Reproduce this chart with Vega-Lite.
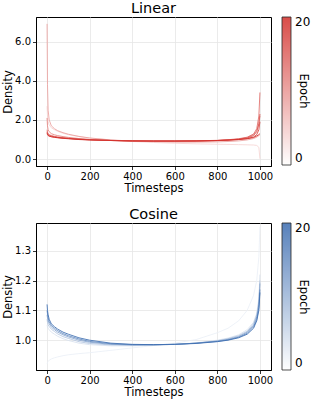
{
  "$schema": "https://vega.github.io/schema/vega-lite/v6.json",
  "background": "white",
  "padding": {"left": 2, "top": 0, "right": 0, "bottom": 0},
  "spacing": 11,
  "resolve": {"scale": {"color": "independent"}, "legend": {"color": "independent"}},
  "config": {
    "font": "DejaVu Sans",
    "view": {"stroke": "black", "strokeWidth": 1},
    "title": {"font": "DejaVu Sans", "fontSize": 14.5, "fontWeight": "normal", "color": "black", "offset": 1, "baseline": "alphabetic"},
    "axis": {
      "domainColor": "black", "tickColor": "black", "tickSize": 3.5, "tickWidth": 0.8,
      "labelFont": "DejaVu Sans", "labelFontSize": 10, "labelColor": "black", "labelPadding": 2,
      "titleFont": "DejaVu Sans", "titleFontSize": 11.5, "titleFontWeight": "normal", "titleColor": "black", "titlePadding": 1,
      "gridColor": "#e6e6e6", "gridWidth": 0.8
    },
    "legend": {
      "offset": 11, "padding": 0,
      "labelFont": "DejaVu Sans", "labelFontSize": 12, "labelColor": "black",
      "titleFont": "DejaVu Sans", "titleFontSize": 11.5, "titleFontWeight": "normal", "titleColor": "black",
      "gradientStrokeColor": "black", "gradientStrokeWidth": 0.8
    }
  },
  "vconcat": [
    {
      "title": "Linear",
      "width": 235,
      "height": 149,
      "data": {"values": [
        {"epoch":4,"step":0,"density":2.7},{"epoch":4,"step":2,"density":2.2},{"epoch":4,"step":5,"density":1.9},{"epoch":4,"step":10,"density":1.75},{"epoch":4,"step":20,"density":1.6},{"epoch":4,"step":35,"density":1.5},{"epoch":4,"step":50,"density":1.42},{"epoch":4,"step":75,"density":1.32},{"epoch":4,"step":100,"density":1.25},{"epoch":4,"step":150,"density":1.15},{"epoch":4,"step":200,"density":1.07},{"epoch":4,"step":300,"density":0.97},{"epoch":4,"step":400,"density":0.9},{"epoch":4,"step":500,"density":0.85},{"epoch":4,"step":600,"density":0.81},{"epoch":4,"step":700,"density":0.78},{"epoch":4,"step":800,"density":0.76},{"epoch":4,"step":850,"density":0.75},{"epoch":4,"step":900,"density":0.74},{"epoch":4,"step":940,"density":0.73},{"epoch":4,"step":970,"density":0.72},{"epoch":4,"step":985,"density":0.7},{"epoch":4,"step":995,"density":0.6},{"epoch":4,"step":1000,"density":0.02},
        {"epoch":9,"step":0,"density":6.9},{"epoch":9,"step":2,"density":3.8},{"epoch":9,"step":5,"density":2.5},{"epoch":9,"step":10,"density":2.0},{"epoch":9,"step":20,"density":1.7},{"epoch":9,"step":35,"density":1.55},{"epoch":9,"step":50,"density":1.45},{"epoch":9,"step":75,"density":1.35},{"epoch":9,"step":100,"density":1.27},{"epoch":9,"step":150,"density":1.16},{"epoch":9,"step":200,"density":1.08},{"epoch":9,"step":300,"density":0.98},{"epoch":9,"step":400,"density":0.92},{"epoch":9,"step":500,"density":0.89},{"epoch":9,"step":600,"density":0.87},{"epoch":9,"step":700,"density":0.87},{"epoch":9,"step":800,"density":0.88},{"epoch":9,"step":850,"density":0.9},{"epoch":9,"step":900,"density":0.93},{"epoch":9,"step":940,"density":0.98},{"epoch":9,"step":970,"density":1.05},{"epoch":9,"step":985,"density":1.12},{"epoch":9,"step":995,"density":1.2},{"epoch":9,"step":1000,"density":1.25},
        {"epoch":12,"step":0,"density":2.1},{"epoch":12,"step":2,"density":1.7},{"epoch":12,"step":5,"density":1.5},{"epoch":12,"step":10,"density":1.4},{"epoch":12,"step":20,"density":1.3},{"epoch":12,"step":35,"density":1.24},{"epoch":12,"step":50,"density":1.2},{"epoch":12,"step":75,"density":1.15},{"epoch":12,"step":100,"density":1.11},{"epoch":12,"step":150,"density":1.05},{"epoch":12,"step":200,"density":1.0},{"epoch":12,"step":300,"density":0.95},{"epoch":12,"step":400,"density":0.92},{"epoch":12,"step":500,"density":0.9},{"epoch":12,"step":600,"density":0.9},{"epoch":12,"step":700,"density":0.91},{"epoch":12,"step":800,"density":0.94},{"epoch":12,"step":850,"density":0.97},{"epoch":12,"step":900,"density":1.02},{"epoch":12,"step":940,"density":1.1},{"epoch":12,"step":970,"density":1.25},{"epoch":12,"step":985,"density":1.45},{"epoch":12,"step":995,"density":1.8},{"epoch":12,"step":1000,"density":2.2},
        {"epoch":14,"step":0,"density":1.5},{"epoch":14,"step":2,"density":1.38},{"epoch":14,"step":5,"density":1.3},{"epoch":14,"step":10,"density":1.25},{"epoch":14,"step":20,"density":1.2},{"epoch":14,"step":35,"density":1.16},{"epoch":14,"step":50,"density":1.13},{"epoch":14,"step":75,"density":1.1},{"epoch":14,"step":100,"density":1.07},{"epoch":14,"step":150,"density":1.03},{"epoch":14,"step":200,"density":1.0},{"epoch":14,"step":300,"density":0.96},{"epoch":14,"step":400,"density":0.93},{"epoch":14,"step":500,"density":0.92},{"epoch":14,"step":600,"density":0.92},{"epoch":14,"step":700,"density":0.93},{"epoch":14,"step":800,"density":0.96},{"epoch":14,"step":850,"density":0.99},{"epoch":14,"step":900,"density":1.04},{"epoch":14,"step":940,"density":1.12},{"epoch":14,"step":970,"density":1.28},{"epoch":14,"step":985,"density":1.55},{"epoch":14,"step":995,"density":2.2},{"epoch":14,"step":1000,"density":3.4},
        {"epoch":16,"step":0,"density":1.4},{"epoch":16,"step":2,"density":1.32},{"epoch":16,"step":5,"density":1.26},{"epoch":16,"step":10,"density":1.22},{"epoch":16,"step":20,"density":1.18},{"epoch":16,"step":35,"density":1.14},{"epoch":16,"step":50,"density":1.11},{"epoch":16,"step":75,"density":1.08},{"epoch":16,"step":100,"density":1.06},{"epoch":16,"step":150,"density":1.02},{"epoch":16,"step":200,"density":0.99},{"epoch":16,"step":300,"density":0.95},{"epoch":16,"step":400,"density":0.93},{"epoch":16,"step":500,"density":0.92},{"epoch":16,"step":600,"density":0.92},{"epoch":16,"step":700,"density":0.93},{"epoch":16,"step":800,"density":0.95},{"epoch":16,"step":850,"density":0.98},{"epoch":16,"step":900,"density":1.02},{"epoch":16,"step":940,"density":1.08},{"epoch":16,"step":970,"density":1.2},{"epoch":16,"step":985,"density":1.4},{"epoch":16,"step":995,"density":1.8},{"epoch":16,"step":1000,"density":2.3},
        {"epoch":18,"step":0,"density":1.35},{"epoch":18,"step":2,"density":1.28},{"epoch":18,"step":5,"density":1.22},{"epoch":18,"step":10,"density":1.18},{"epoch":18,"step":20,"density":1.15},{"epoch":18,"step":35,"density":1.12},{"epoch":18,"step":50,"density":1.1},{"epoch":18,"step":75,"density":1.07},{"epoch":18,"step":100,"density":1.05},{"epoch":18,"step":150,"density":1.01},{"epoch":18,"step":200,"density":0.98},{"epoch":18,"step":300,"density":0.95},{"epoch":18,"step":400,"density":0.93},{"epoch":18,"step":500,"density":0.92},{"epoch":18,"step":600,"density":0.92},{"epoch":18,"step":700,"density":0.93},{"epoch":18,"step":800,"density":0.95},{"epoch":18,"step":850,"density":0.97},{"epoch":18,"step":900,"density":1.0},{"epoch":18,"step":940,"density":1.05},{"epoch":18,"step":970,"density":1.13},{"epoch":18,"step":985,"density":1.25},{"epoch":18,"step":995,"density":1.5},{"epoch":18,"step":1000,"density":1.9},
        {"epoch":20,"step":0,"density":1.3},{"epoch":20,"step":2,"density":1.25},{"epoch":20,"step":5,"density":1.2},{"epoch":20,"step":10,"density":1.17},{"epoch":20,"step":20,"density":1.14},{"epoch":20,"step":35,"density":1.11},{"epoch":20,"step":50,"density":1.09},{"epoch":20,"step":75,"density":1.06},{"epoch":20,"step":100,"density":1.04},{"epoch":20,"step":150,"density":1.0},{"epoch":20,"step":200,"density":0.98},{"epoch":20,"step":300,"density":0.95},{"epoch":20,"step":400,"density":0.93},{"epoch":20,"step":500,"density":0.93},{"epoch":20,"step":600,"density":0.93},{"epoch":20,"step":700,"density":0.93},{"epoch":20,"step":800,"density":0.95},{"epoch":20,"step":850,"density":0.97},{"epoch":20,"step":900,"density":1.0},{"epoch":20,"step":940,"density":1.04},{"epoch":20,"step":970,"density":1.1},{"epoch":20,"step":985,"density":1.18},{"epoch":20,"step":995,"density":1.25},{"epoch":20,"step":1000,"density":1.3}
      ]},
      "mark": {"type": "line", "strokeWidth": 1, "opacity": 0.85},
      "encoding": {
        "x": {"field": "step", "type": "quantitative", "scale": {"domain": [-52, 1052], "nice": false, "zero": false}, "axis": {"values": [0, 200, 400, 600, 800, 1000], "format": "d", "title": "Timesteps"}},
        "y": {"field": "density", "type": "quantitative", "scale": {"domain": [-0.35, 7.25], "nice": false, "zero": false}, "axis": {"values": [0, 2, 4, 6], "format": ".1f", "title": "Density"}},
        "color": {"field": "epoch", "type": "quantitative", "scale": {"domain": [0, 20], "range": ["#ffffff", "#d32f2a"], "interpolate": "rgb"},
          "legend": {"title": "Epoch", "values": [0, 20], "gradientLength": 148, "gradientThickness": 9, "labelBaseline": "middle", "labelOffset": 4, "titleOrient": "right", "titleAnchor": "middle", "titleAngle": 270, "titlePadding": -12}},
        "detail": {"field": "epoch", "type": "nominal"},
        "order": {"field": "step", "type": "quantitative"}
      }
    },
    {
      "title": "Cosine",
      "width": 235,
      "height": 147,
      "data": {"values": [
        {"epoch":2,"step":0,"density":0.92},{"epoch":2,"step":2,"density":0.925},{"epoch":2,"step":5,"density":0.929},{"epoch":2,"step":10,"density":0.933},{"epoch":2,"step":20,"density":0.937},{"epoch":2,"step":35,"density":0.941},{"epoch":2,"step":50,"density":0.944},{"epoch":2,"step":75,"density":0.948},{"epoch":2,"step":100,"density":0.951},{"epoch":2,"step":150,"density":0.955},{"epoch":2,"step":200,"density":0.958},{"epoch":2,"step":300,"density":0.966},{"epoch":2,"step":400,"density":0.974},{"epoch":2,"step":500,"density":0.982},{"epoch":2,"step":600,"density":0.99},{"epoch":2,"step":700,"density":1.002},{"epoch":2,"step":800,"density":1.025},{"epoch":2,"step":850,"density":1.04},{"epoch":2,"step":900,"density":1.065},{"epoch":2,"step":940,"density":1.1},{"epoch":2,"step":970,"density":1.15},{"epoch":2,"step":985,"density":1.2},{"epoch":2,"step":995,"density":1.28},{"epoch":2,"step":1000,"density":1.38},
        {"epoch":4,"step":0,"density":1.05},{"epoch":4,"step":2,"density":1.045},{"epoch":4,"step":5,"density":1.04},{"epoch":4,"step":10,"density":1.035},{"epoch":4,"step":20,"density":1.027},{"epoch":4,"step":35,"density":1.02},{"epoch":4,"step":50,"density":1.013},{"epoch":4,"step":75,"density":1.005},{"epoch":4,"step":100,"density":0.999},{"epoch":4,"step":150,"density":0.99},{"epoch":4,"step":200,"density":0.985},{"epoch":4,"step":300,"density":0.981},{"epoch":4,"step":400,"density":0.981},{"epoch":4,"step":500,"density":0.983},{"epoch":4,"step":600,"density":0.986},{"epoch":4,"step":700,"density":0.991},{"epoch":4,"step":800,"density":1.0},{"epoch":4,"step":850,"density":1.007},{"epoch":4,"step":900,"density":1.018},{"epoch":4,"step":940,"density":1.035},{"epoch":4,"step":970,"density":1.06},{"epoch":4,"step":985,"density":1.09},{"epoch":4,"step":995,"density":1.14},{"epoch":4,"step":1000,"density":1.22},
        {"epoch":8,"step":0,"density":1.07},{"epoch":8,"step":2,"density":1.06},{"epoch":8,"step":5,"density":1.052},{"epoch":8,"step":10,"density":1.046},{"epoch":8,"step":20,"density":1.037},{"epoch":8,"step":35,"density":1.029},{"epoch":8,"step":50,"density":1.021},{"epoch":8,"step":75,"density":1.012},{"epoch":8,"step":100,"density":1.006},{"epoch":8,"step":150,"density":0.995},{"epoch":8,"step":200,"density":0.989},{"epoch":8,"step":300,"density":0.984},{"epoch":8,"step":400,"density":0.983},{"epoch":8,"step":500,"density":0.984},{"epoch":8,"step":600,"density":0.986},{"epoch":8,"step":700,"density":0.99},{"epoch":8,"step":800,"density":0.998},{"epoch":8,"step":850,"density":1.005},{"epoch":8,"step":900,"density":1.015},{"epoch":8,"step":940,"density":1.03},{"epoch":8,"step":970,"density":1.055},{"epoch":8,"step":985,"density":1.085},{"epoch":8,"step":995,"density":1.13},{"epoch":8,"step":1000,"density":1.2},
        {"epoch":12,"step":0,"density":1.085},{"epoch":12,"step":2,"density":1.075},{"epoch":12,"step":5,"density":1.065},{"epoch":12,"step":10,"density":1.055},{"epoch":12,"step":20,"density":1.044},{"epoch":12,"step":35,"density":1.035},{"epoch":12,"step":50,"density":1.027},{"epoch":12,"step":75,"density":1.018},{"epoch":12,"step":100,"density":1.011},{"epoch":12,"step":150,"density":1.0},{"epoch":12,"step":200,"density":0.993},{"epoch":12,"step":300,"density":0.986},{"epoch":12,"step":400,"density":0.984},{"epoch":12,"step":500,"density":0.984},{"epoch":12,"step":600,"density":0.986},{"epoch":12,"step":700,"density":0.99},{"epoch":12,"step":800,"density":0.997},{"epoch":12,"step":850,"density":1.003},{"epoch":12,"step":900,"density":1.012},{"epoch":12,"step":940,"density":1.027},{"epoch":12,"step":970,"density":1.05},{"epoch":12,"step":985,"density":1.078},{"epoch":12,"step":995,"density":1.12},{"epoch":12,"step":1000,"density":1.19},
        {"epoch":16,"step":0,"density":1.1},{"epoch":16,"step":2,"density":1.088},{"epoch":16,"step":5,"density":1.075},{"epoch":16,"step":10,"density":1.062},{"epoch":16,"step":20,"density":1.05},{"epoch":16,"step":35,"density":1.04},{"epoch":16,"step":50,"density":1.032},{"epoch":16,"step":75,"density":1.022},{"epoch":16,"step":100,"density":1.015},{"epoch":16,"step":150,"density":1.004},{"epoch":16,"step":200,"density":0.996},{"epoch":16,"step":300,"density":0.988},{"epoch":16,"step":400,"density":0.985},{"epoch":16,"step":500,"density":0.985},{"epoch":16,"step":600,"density":0.986},{"epoch":16,"step":700,"density":0.99},{"epoch":16,"step":800,"density":0.996},{"epoch":16,"step":850,"density":1.001},{"epoch":16,"step":900,"density":1.01},{"epoch":16,"step":940,"density":1.023},{"epoch":16,"step":970,"density":1.045},{"epoch":16,"step":985,"density":1.07},{"epoch":16,"step":995,"density":1.11},{"epoch":16,"step":1000,"density":1.17},
        {"epoch":20,"step":0,"density":1.12},{"epoch":20,"step":2,"density":1.1},{"epoch":20,"step":5,"density":1.085},{"epoch":20,"step":10,"density":1.07},{"epoch":20,"step":20,"density":1.055},{"epoch":20,"step":35,"density":1.045},{"epoch":20,"step":50,"density":1.037},{"epoch":20,"step":75,"density":1.027},{"epoch":20,"step":100,"density":1.02},{"epoch":20,"step":150,"density":1.008},{"epoch":20,"step":200,"density":1.0},{"epoch":20,"step":300,"density":0.99},{"epoch":20,"step":400,"density":0.986},{"epoch":20,"step":500,"density":0.985},{"epoch":20,"step":600,"density":0.986},{"epoch":20,"step":700,"density":0.989},{"epoch":20,"step":800,"density":0.995},{"epoch":20,"step":850,"density":1.0},{"epoch":20,"step":900,"density":1.008},{"epoch":20,"step":940,"density":1.02},{"epoch":20,"step":970,"density":1.04},{"epoch":20,"step":985,"density":1.065},{"epoch":20,"step":995,"density":1.1},{"epoch":20,"step":1000,"density":1.16}
      ]},
      "mark": {"type": "line", "strokeWidth": 1, "opacity": 0.85},
      "encoding": {
        "x": {"field": "step", "type": "quantitative", "scale": {"domain": [-52, 1052], "nice": false, "zero": false}, "axis": {"values": [0, 200, 400, 600, 800, 1000], "format": "d", "title": "Timesteps"}},
        "y": {"field": "density", "type": "quantitative", "scale": {"domain": [0.9, 1.393], "nice": false, "zero": false}, "axis": {"values": [1.0, 1.1, 1.2, 1.3], "format": ".1f", "title": "Density"}},
        "color": {"field": "epoch", "type": "quantitative", "scale": {"domain": [0, 20], "range": ["#ffffff", "#3b6cb0"], "interpolate": "rgb"},
          "legend": {"title": "Epoch", "values": [0, 20], "gradientLength": 147, "gradientThickness": 9, "labelBaseline": "middle", "labelOffset": 4, "titleOrient": "right", "titleAnchor": "middle", "titleAngle": 270, "titlePadding": -12}},
        "detail": {"field": "epoch", "type": "nominal"},
        "order": {"field": "step", "type": "quantitative"}
      }
    }
  ]
}
